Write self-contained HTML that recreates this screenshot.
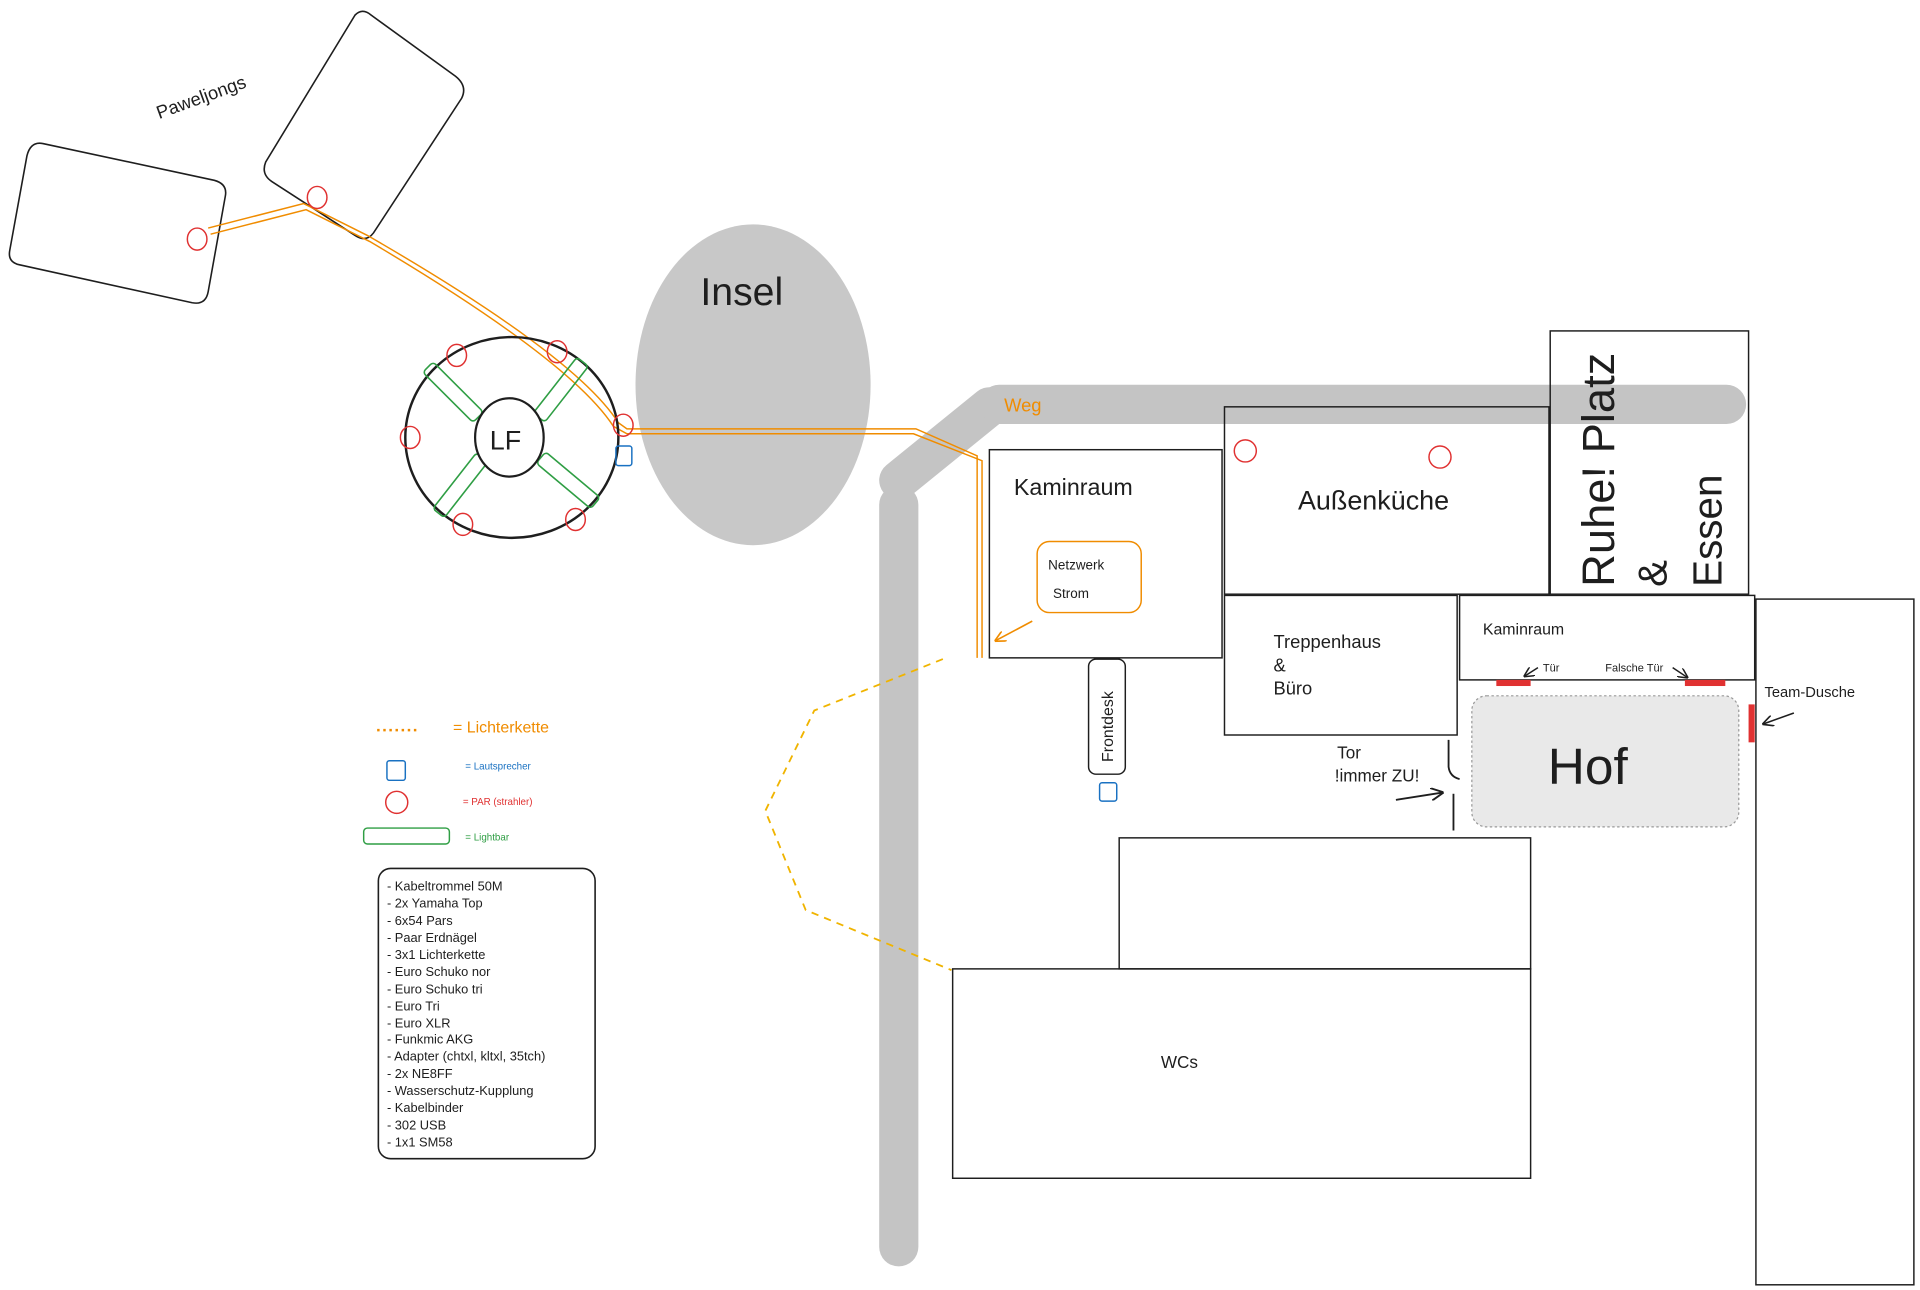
<!DOCTYPE html>
<html><head><meta charset="utf-8"><style>
html,body{margin:0;padding:0;background:#fff;width:1920px;height:1290px;overflow:hidden}
svg{display:block}
text{font-family:"Liberation Sans",sans-serif;fill:#1e1e1e}
</style></head><body>
<svg width="1920" height="1290" viewBox="0 0 1568 1053" xmlns="http://www.w3.org/2000/svg">
<defs>
<marker id="ah" viewBox="0 0 10 10" refX="9" refY="5" markerWidth="7" markerHeight="7" orient="auto-start-reverse"><path d="M0,0 L10,5 L0,10" fill="none" stroke="#1e1e1e" stroke-width="1.5"/></marker>
<marker id="aho" viewBox="0 0 10 10" refX="9" refY="5" markerWidth="7" markerHeight="7" orient="auto-start-reverse"><path d="M0,0 L10,5 L0,10" fill="none" stroke="#f08c00" stroke-width="1.5"/></marker>
</defs>
<!-- Weg -->
<g stroke="#c4c4c4" stroke-width="32" stroke-linecap="round" fill="none">
<line x1="734" y1="1018" x2="734" y2="412"/>
<line x1="734" y1="392" x2="808" y2="332"/>
<line x1="816" y1="330" x2="1410" y2="330"/>
</g>
<text x="820" y="336" font-size="15" style="fill:#f08c00">Weg</text>
<!-- Insel -->
<ellipse cx="615" cy="314" rx="96" ry="131" fill="#c8c8c8"/>
<text x="572" y="249" font-size="32">Insel</text>
<!-- Pavilions -->
<path d="M35,117 L175,147 Q186,150 184,160 L170,238 Q168,249 157,247 L16,216 Q6,214 8,204 L22,127 Q25,115 35,117Z" fill="none" stroke="#1e1e1e" stroke-width="1.3"/>
<path d="M290,12 Q296,6 303,12 L372,62 Q382,70 377,80 L305,190 Q299,198 290,192 L222,148 Q213,142 217,132 Z" fill="none" stroke="#1e1e1e" stroke-width="1.3"/>
<text x="130" y="97" font-size="15" transform="rotate(-20 130 97)">Paweljongs</text>
<!-- orange cable -->
<g stroke="#f08c00" stroke-width="1.2" fill="none">
<path d="M170,186 L248,166 L300,192 Q470,290 505,345 L512,350 L748,350 L798,372 L798,537"/>
<path d="M172,191 L250,171 L302,197 Q466,294 501,348 L512,354 L746,354 L802,376 L802,537"/>
</g>
<!-- LF -->
<ellipse cx="418" cy="357" rx="87" ry="82" fill="none" stroke="#1e1e1e" stroke-width="2"/>
<g stroke="#2f9e44" stroke-width="1.3" fill="none">
<rect x="-29" y="-6" width="58" height="12" rx="3" transform="translate(370,320) rotate(45)"/>
<rect x="-29" y="-6" width="58" height="12" rx="3" transform="translate(458,318) rotate(-52)"/>
<rect x="-29" y="-6" width="58" height="12" rx="3" transform="translate(376,396) rotate(-52)"/>
<rect x="-29" y="-6" width="58" height="12" rx="3" transform="translate(464,392) rotate(40)"/>
</g>
<ellipse cx="416" cy="357" rx="28" ry="32" fill="#fff" stroke="#1e1e1e" stroke-width="1.8"/>
<text x="400" y="367" font-size="22">LF</text>
<g fill="none" stroke="#e03131" stroke-width="1.2">
<ellipse cx="161" cy="195" rx="8" ry="9"/><ellipse cx="259" cy="161" rx="8" ry="9"/>
<ellipse cx="373" cy="290" rx="8" ry="9"/><ellipse cx="455" cy="287" rx="8" ry="9"/>
<ellipse cx="335" cy="357" rx="8" ry="9"/><ellipse cx="509" cy="347" rx="8" ry="9"/>
<ellipse cx="378" cy="428" rx="8" ry="9"/><ellipse cx="470" cy="424" rx="8" ry="9"/>
<ellipse cx="1017" cy="368" rx="9" ry="9"/><ellipse cx="1176" cy="373" rx="9" ry="9"/>
<ellipse cx="324" cy="655" rx="9" ry="9"/>
</g>
<g fill="none" stroke="#1971c2" stroke-width="1.2">
<rect x="503" y="364" width="13" height="16" rx="2"/>
<rect x="898" y="639" width="14" height="15" rx="2"/>
<rect x="316" y="621" width="15" height="16" rx="2"/>
</g>
<!-- buildings -->
<g fill="none" stroke="#1e1e1e" stroke-width="1.2">
<rect x="808" y="367" width="190" height="170"/>
<rect x="1000" y="332" width="265" height="153"/>
<rect x="1266" y="270" width="162" height="215"/>
<rect x="1000" y="486" width="190" height="114"/>
<rect x="1192" y="486" width="241" height="69"/>
<rect x="1434" y="489" width="129" height="560"/>
<rect x="914" y="684" width="336" height="107"/>
<rect x="778" y="791" width="472" height="171"/>
<rect x="889" y="538" width="30" height="94" rx="6"/>
</g>
<text x="828" y="404" font-size="19">Kaminraum</text>
<rect x="847" y="442" width="85" height="58" rx="10" fill="none" stroke="#f08c00" stroke-width="1.2"/>
<text x="856" y="465" font-size="11">Netzwerk</text>
<text x="860" y="488" font-size="11">Strom</text>
<line x1="843" y1="507" x2="813" y2="523" stroke="#f08c00" stroke-width="1.3" marker-end="url(#aho)"/>
<text x="1060" y="416" font-size="22">Außenküche</text>
<text transform="translate(1318,479) rotate(-90)" font-size="37">Ruhe! Platz</text>
<text transform="translate(1361,479) rotate(-90)" font-size="33">&amp;</text>
<text transform="translate(1406,479) rotate(-90)" font-size="33">Essen</text>
<text x="1040" y="529" font-size="15">Treppenhaus</text>
<text x="1040" y="548" font-size="15">&amp;</text>
<text x="1040" y="567" font-size="15">Büro</text>
<text x="1211" y="518" font-size="13">Kaminraum</text>
<text x="1260" y="548" font-size="9">Tür</text>
<text x="1311" y="548" font-size="9">Falsche Tür</text>
<line x1="1256" y1="545" x2="1245" y2="552" stroke="#1e1e1e" stroke-width="1.2" marker-end="url(#ah)"/>
<line x1="1366" y1="545" x2="1378" y2="553" stroke="#1e1e1e" stroke-width="1.2" marker-end="url(#ah)"/>
<rect x="1202" y="568" width="218" height="107" rx="12" fill="#e9e9e9" stroke="#999" stroke-width="1" stroke-dasharray="2 2"/>
<text x="1264" y="640" font-size="42">Hof</text>
<g fill="#e03131"><rect x="1222" y="555" width="28" height="5"/><rect x="1376" y="555" width="33" height="5"/><rect x="1428" y="575" width="5" height="31"/></g>
<text x="1441" y="569" font-size="12">Team-Dusche</text>
<line x1="1465" y1="582" x2="1440" y2="591" stroke="#1e1e1e" stroke-width="1.3" marker-end="url(#ah)"/>
<text x="1092" y="619" font-size="14">Tor</text>
<text x="1090" y="638" font-size="14">!immer ZU!</text>
<path d="M1183,604 L1183,626 Q1184,634 1192,636" fill="none" stroke="#1e1e1e" stroke-width="1.5"/>
<line x1="1187" y1="648" x2="1187" y2="678" stroke="#1e1e1e" stroke-width="1.5"/>
<line x1="1140" y1="653" x2="1178" y2="647" stroke="#1e1e1e" stroke-width="1.5" marker-end="url(#ah)"/>
<text transform="translate(909,622) rotate(-90)" font-size="13">Frontdesk</text>
<text x="948" y="872" font-size="14">WCs</text>
<polyline points="770,538 665,580 625,662 658,743 777,792" fill="none" stroke="#f0b400" stroke-width="1.5" stroke-dasharray="6 5"/>
<!-- legend -->
<line x1="308" y1="596" x2="340" y2="596" stroke="#f08c00" stroke-width="2" stroke-dasharray="2 3"/>
<text x="370" y="598" font-size="13" style="fill:#f08c00">= Lichterkette</text>
<text x="380" y="628" font-size="8" style="fill:#1971c2">= Lautsprecher</text>
<text x="378" y="657" font-size="8" style="fill:#e03131">= PAR (strahler)</text>
<rect x="297" y="676" width="70" height="13" rx="3" fill="none" stroke="#2f9e44" stroke-width="1.2"/>
<text x="380" y="686" font-size="8" style="fill:#2f9e44">= Lightbar</text>
<rect x="309" y="709" width="177" height="237" rx="10" fill="none" stroke="#1e1e1e" stroke-width="1.3"/>
<g font-size="10.5">
<text x="316" y="727">- Kabeltrommel 50M</text>
<text x="316" y="741">- 2x Yamaha Top</text>
<text x="316" y="755">- 6x54 Pars</text>
<text x="316" y="769">- Paar Erdnägel</text>
<text x="316" y="783">- 3x1 Lichterkette</text>
<text x="316" y="797">- Euro Schuko nor</text>
<text x="316" y="811">- Euro Schuko tri</text>
<text x="316" y="825">- Euro Tri</text>
<text x="316" y="839">- Euro XLR</text>
<text x="316" y="852">- Funkmic AKG</text>
<text x="316" y="866">- Adapter (chtxl, kltxl, 35tch)</text>
<text x="316" y="880">- 2x NE8FF</text>
<text x="316" y="894">- Wasserschutz-Kupplung</text>
<text x="316" y="908">- Kabelbinder</text>
<text x="316" y="922">- 302 USB</text>
<text x="316" y="936">- 1x1 SM58</text>
</g>
</svg>
</body></html>
